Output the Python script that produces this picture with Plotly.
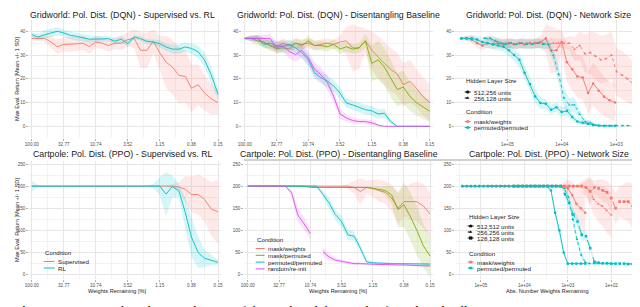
import plotly.graph_objects as go
import math

W, H = 640, 307

# ---------------- data ----------------
weights_pct = [100.00, 80.00, 64.00, 51.20, 40.96, 32.77, 26.21, 20.97, 16.78, 13.42,
               10.74, 8.59, 6.87, 5.50, 4.40, 3.52, 2.81, 2.25, 1.80, 1.44,
               1.15, 0.92, 0.74, 0.59, 0.47, 0.38, 0.30, 0.24, 0.19, 0.15]
pct_tick_vals = [100.00, 32.77, 10.74, 3.52, 1.15, 0.38, 0.15]
pct_tick_text = ["100.00", "32.77", "10.74", "3.52", "1.15", "0.38", "0.15"]

abs_tick_vals = [1e5, 1e4, 1e3, 1e2]
abs_tick_text = ["1e+05", "1e+04", "1e+03", "1e+02"]

# Gridworld: Supervised vs RL
gw_sup_mean = [37, 37, 37, 35.5, 33.5, 34.5, 34.5, 34.7, 35, 33.5, 35.5, 35, 34, 35, 35,
               36.5, 37, 32, 32, 35.8, 31, 27, 25, 21.5, 21, 16, 17.5, 14, 11.5, 10]
gw_sup_sd = [1, 1, 1.5, 2.5, 3, 3, 3, 3, 3, 3, 2.5, 2.5, 2.5, 2.5, 3, 3, 4, 7.5, 7.5, 5,
             7, 11, 11.5, 12, 11, 10, 8.5, 7.5, 6.5, 5]
gw_rl_mean = [38.6, 37.6, 38.6, 39.4, 40, 39.3, 38.3, 37.9, 37.2, 36.7, 36.7, 36.9, 36.9,
              35.8, 36.7, 34.8, 37.6, 36.9, 35.8, 35.5, 34.8, 33.4, 32.5, 32.5, 33.4, 32.8,
              31.4, 27.9, 21.6, 13.5]
gw_rl_sd = [1, 1.5, 1.8, 1.8, 1.8, 1.5, 1.5, 1.5, 1.5, 1.5, 1.2, 1.2, 1.2, 1.2, 1.5, 1.2,
            1, 1, 1, 1.2, 1.5, 1.5, 1.8, 2, 2, 2.2, 2.5, 3, 3.5, 2.5]

# Gridworld: Disentangling baseline
gw_mw_mean = [37, 37, 37, 35, 34, 33.5, 35, 34, 35, 34.5, 35, 34, 34.5, 35, 34.5, 35.5, 36,
              33, 33, 36, 32, 29, 26.5, 24, 22, 17.5, 19, 16, 12.5, 10]
gw_mw_sd = [0.5, 1, 1.5, 2, 2, 2, 2, 2, 2, 2, 2, 2, 2, 2, 2, 2.5, 6, 10, 9, 5, 8, 9, 9, 9,
            9, 9, 9, 8, 8, 8]
gw_mp_mean = [37, 37, 36, 35.5, 34, 32.7, 33, 32.5, 35, 34, 36, 34, 34, 33.5, 34.5, 32.5,
              33.5, 32.5, 33, 36, 26.5, 28, 25, 20, 15.5, 16.5, 12.5, 10, 8, 6.3]
gw_mp_sd = [0.5, 1.5, 2, 2, 2, 2, 2, 2, 2, 2, 2, 2, 2, 2, 2, 2, 2, 2, 2, 3, 7.5, 8, 8, 8, 7,
            7, 6, 5.5, 5, 4.5]
gw_pp_mean = [37, 37, 37, 34.5, 35, 34, 33.5, 34.5, 33, 31, 28, 22.5, 20.5, 19, 17, 14, 9.8,
              9, 8, 7, 6.5, 5.2, 5.5, 2, 0, 0, 0, 0, 0, 0]
gw_pp_sd = [0.5, 1, 1.5, 1.5, 2, 2, 2, 2, 2, 2.5, 2.5, 2.5, 2.5, 2.5, 2.5, 2.5, 2, 2, 2, 2,
            2, 2, 2, 1, 0.3, 0, 0, 0, 0, 0]
gw_rr_mean = [37, 37, 37, 37, 37, 33, 34, 31.5, 30.2, 32, 28.8, 24, 21.7, 18.5, 12.6, 5.2,
              3.5, 2.4, 2, 2, 1.5, 0.5, 0, 0, 0, 0, 0, 0, 0, 0]
gw_rr_sd = [0.5, 1, 1.5, 1.5, 2, 2.5, 2.5, 3, 3, 3, 3, 3, 3, 3, 2.5, 2, 1.5, 1.2, 1, 1, 1,
            0.5, 0, 0, 0, 0, 0, 0, 0, 0]

# Gridworld: Network size (total weights per hidden-layer configuration)
gw_sizes = ["512,256 units", "256,128 units"]
gw_total_weights = [7.0e5, 2.6e5]
gw_ns_mw_mean = [
    [37, 37, 36.5, 35, 34, 35, 34.5, 35, 34.5, 35, 34.5, 35, 34.5, 35, 35, 35.5, 37, 32,
     32, 35.5, 27, 24, 21, 20.5, 14, 18, 15, 12.5, 11, 10],
    [37, 37, 36, 35, 35, 35, 34.5, 35, 35, 34.5, 35, 35, 34.5, 35, 35, 35, 35, 32.5, 34,
     30.5, 31, 29.5, 28, 28.5, 30, 23, 21.5, 20, 18, 13],
]
gw_ns_mw_sd = [
    [1, 1, 1.5, 2, 2, 2, 2, 2, 2, 2, 2, 2, 2, 2, 2, 2.5, 6, 10, 9, 5, 8, 9, 9, 9, 9, 9, 9,
     8, 8, 8],
    [1, 1, 1.5, 2, 2, 2, 2, 2, 2, 2, 2, 2, 2, 2, 2, 2, 3, 5, 6, 8, 9, 10, 10, 10, 10, 10,
     10, 10, 9, 8],
]
gw_ns_pp_mean = [
    [37, 37, 37, 36.5, 35.5, 35, 34.5, 34, 33.5, 32, 30, 28, 22.5, 17.8, 12.6, 9.8, 9.5, 7,
     8, 6, 6.5, 3.9, 2, 1.5, 1, 0.5, 0.3, 0.2, 0.2, 0.2],
    [37, 37, 36, 35, 34.5, 35, 34.5, 35, 34.5, 34.5, 35, 34.5, 34.5, 30, 22, 12, 9, 9, 5,
     2, 1.5, 0.5, 0.3, 0.3, 0.3, 0.3, 0.3, 0.3, 0.3, 0.3],
]
gw_ns_pp_sd = [
    [0.5, 1, 1.5, 1.5, 2, 2, 2, 2, 2, 2.5, 2.5, 3, 3, 3, 3, 2.5, 2, 2, 2, 2, 2, 1.5, 1, 1,
     0.5, 0.3, 0, 0, 0, 0],
    [0.5, 1, 1.5, 1.5, 2, 2, 2, 2, 2, 2, 2, 2, 2, 3, 4, 4, 3, 3, 2, 1, 1, 0.5, 0, 0, 0, 0,
     0, 0, 0, 0],
]

# Cartpole: Supervised vs RL
cp_sup_mean = [200] * 23 + [198, 193, 181, 181, 170, 148, 142]
cp_sup_sd = [1] * 22 + [5, 10, 30, 40, 45, 50, 60, 72]
cp_rl_mean = [200] * 21 + [182, 199, 190, 140, 85, 50, 37, 33, 28]
cp_rl_sd = [12, 2] + [1] * 17 + [5, 20, 50, 25, 15, 35, 45, 35, 20, 12, 5]

# Cartpole: Disentangling baseline
cp_mw_mean = [200] * 17 + [197, 188, 197, 195, 190, 186, 173, 150, 165, 165, 165, 155, 137]
cp_mw_sd = [1] * 16 + [5, 15, 30, 15, 20, 25, 25, 30, 35, 35, 40, 45, 50, 50]
cp_mp_mean = [200] * 10 + [197] * 10 + [195, 193, 190, 180, 147, 158, 130, 100, 65, 42]
cp_mp_sd = [1] * 20 + [3, 5, 10, 20, 40, 50, 55, 55, 50, 45]
cp_pp_mean = [200] * 12 + [182, 162, 136, 120, 90, 87, 60, 29, 27, 26, 26, 25, 25, 25, 25,
                           24, 24, 24]
cp_pp_sd = [1] * 12 + [8, 12, 12, 12, 12, 10, 8, 4, 3, 2, 2, 2, 2, 2, 2, 2, 2, 2]
cp_rr_mean = [200] * 7 + [185, 135, 115, 93, None, 52, 40, 33, 30, 27, 25, 25, 24, 24, 23,
                          23, 22, 22, 22, 21, 21, 20, 20]
cp_rr_sd = [1] * 7 + [8, 15, 15, 12, None, 10, 8, 5, 4, 3, 3, 3, 2, 2, 2, 2, 2, 2, 2, 2,
                      2, 2, 2]

# Cartpole: Network size
cp_sizes = ["512,512 units", "256,256 units", "128,128 units"]
cp_total_weights = [2.65e5, 6.7e4, 1.7e4]
cp_ns_mw_mean = [
    [200] * 25 + [195, 180, 160, 150, 140],
    [200] * 23 + [198, 190, 170, 160, 155, 145, 135],
    cp_mw_mean,
]
cp_ns_mw_sd = [
    [1] * 24 + [10, 20, 30, 35, 40, 45],
    [1] * 22 + [10, 20, 30, 35, 40, 45, 50, 50],
    cp_mw_sd,
]
cp_ns_pp_mean = [
    [200] * 21 + [190, 140, 100, 50, 25, 25, 25, 25, 25],
    [200] * 18 + [195, 175, 125, 80, 45, 28, 25, 25, 25, 25, 25, 25],
    cp_pp_mean,
]
cp_ns_pp_sd = [
    [1] * 21 + [5, 10, 10, 8, 3, 2, 2, 2, 2],
    [1] * 18 + [5, 10, 12, 12, 8, 4, 2, 2, 2, 2, 2, 2],
    cp_pp_sd,
]

titles = [
    "Gridworld: Pol. Dist. (DQN) - Supervised vs. RL",
    "Gridworld: Pol. Dist. (DQN) - Disentangling Baseline",
    "Gridworld: Pol. Dist. (DQN) - Network Size",
    "Cartpole: Pol. Dist. (PPO) - Supervised vs. RL",
    "Cartpole: Pol. Dist. (PPO) - Disentangling Baseline",
    "Cartpole: Pol. Dist. (PPO) - Network Size",
]

# ---------------- style ----------------
RED, GREEN, CYAN, MAG = "#F8766D", "#7CAE00", "#00BFC4", "#DE4CF0"
FONT = "Liberation Sans, Arial, sans-serif"
TICK_FONT = dict(family=FONT, size=4.6, color="#4D4D4D")
GRID = "#E6E6E6"
MINOR_GRID = "#F2F2F2"

boxes = [
    (17, 211, 12, 130), (232, 425, 12, 130), (447, 636, 12, 130),
    (17, 211, 153, 271), (234, 425, 153, 271), (447, 636, 153, 271),
]


def rgba(hexc, a):
    h = hexc.lstrip("#")
    return "rgba(%d,%d,%d,%s)" % (int(h[0:2], 16), int(h[2:4], 16), int(h[4:6], 16), a)


def log_range(d0, d1, v_a, p_a, v_b, p_b):
    la, lb = math.log10(v_a), math.log10(v_b)
    s = (p_b - p_a) / (lb - la)
    return [la + (d0 - p_a) / s, la + (d1 - p_a) / s]


def lin_range(y0, y1, v_a, p_a, v_b, p_b):
    s = (p_b - p_a) / (v_b - v_a)
    return [v_a + (y1 - p_a) / s, v_a + (y0 - p_a) / s]


fig = go.Figure()


def add_series(i, xs, mean, sd, color, dash="solid", symbol=None):
    xa = "x" if i == 1 else "x%d" % i
    ya = "y" if i == 1 else "y%d" % i
    seg = []
    segs = []
    for x, m, s in zip(xs, mean, sd):
        if m is None:
            if seg:
                segs.append(seg)
            seg = []
        else:
            seg.append((x, m, s))
    if seg:
        segs.append(seg)
    for sg in segs:
        bx = [p[0] for p in sg] + [p[0] for p in sg[::-1]]
        by = [p[1] + p[2] for p in sg] + [p[1] - p[2] for p in sg[::-1]]
        fig.add_trace(go.Scatter(x=bx, y=by, xaxis=xa, yaxis=ya, fill="toself",
                                 fillcolor=rgba(color, 0.16), line=dict(width=0),
                                 mode="lines", hoverinfo="skip", showlegend=False))
    mode = "lines+markers" if symbol else "lines"
    fig.add_trace(go.Scatter(x=xs, y=mean, xaxis=xa, yaxis=ya, mode=mode,
                             line=dict(color=color, width=0.9, dash=dash),
                             marker=dict(symbol=symbol or "circle", size=2.6, color=color),
                             connectgaps=False, showlegend=False))


add_series(1, weights_pct, gw_sup_mean, gw_sup_sd, RED)
add_series(1, weights_pct, gw_rl_mean, gw_rl_sd, CYAN)
add_series(2, weights_pct, gw_mw_mean, gw_mw_sd, RED)
add_series(2, weights_pct, gw_mp_mean, gw_mp_sd, GREEN)
add_series(2, weights_pct, gw_pp_mean, gw_pp_sd, CYAN)
add_series(2, weights_pct, gw_rr_mean, gw_rr_sd, MAG)
gw_dash = ["solid", "dot"]
gw_sym = ["circle", "triangle-up"]
for k in range(len(gw_sizes)):
    xs = [gw_total_weights[k] * p / 100 for p in weights_pct]
    add_series(3, xs, gw_ns_mw_mean[k], gw_ns_mw_sd[k], RED, gw_dash[k], gw_sym[k])
    add_series(3, xs, gw_ns_pp_mean[k], gw_ns_pp_sd[k], CYAN, gw_dash[k], gw_sym[k])
add_series(4, weights_pct, cp_sup_mean, cp_sup_sd, RED)
add_series(4, weights_pct, cp_rl_mean, cp_rl_sd, CYAN)
add_series(5, weights_pct, cp_mw_mean, cp_mw_sd, RED)
add_series(5, weights_pct, cp_mp_mean, cp_mp_sd, GREEN)
add_series(5, weights_pct, cp_pp_mean, cp_pp_sd, CYAN)
add_series(5, weights_pct, cp_rr_mean, cp_rr_sd, MAG)
cp_dash = ["solid", "dot", "dash"]
cp_sym = ["circle", "triangle-up", "square"]
for k in range(len(cp_sizes)):
    xs = [cp_total_weights[k] * p / 100 for p in weights_pct]
    add_series(6, xs, cp_ns_mw_mean[k], cp_ns_mw_sd[k], RED, cp_dash[k], cp_sym[k])
    add_series(6, xs, cp_ns_pp_mean[k], cp_ns_pp_sd[k], CYAN, cp_dash[k], cp_sym[k])

# ---------------- axes ----------------
top_y = lin_range(12, 130, 40, 23.3, 0, 118.3)
bot_y = lin_range(153, 271, 250, 156, 0, 266.7)
x_ranges = [
    log_range(17, 211, 100, 20, 0.15, 208),
    log_range(232, 425, 100, 235, 0.15, 421.7),
    log_range(447, 636, 1e5, 500, 1e3, 610),
    log_range(17, 211, 100, 20, 0.15, 208),
    log_range(234, 425, 100, 238, 0.15, 422),
    log_range(447, 636, 1e5, 473.3, 1e2, 605),
]
pct_minor = [math.sqrt(a * b) for a, b in zip(pct_tick_vals[:-1], pct_tick_vals[1:])]
abs_minor = [10 ** (e + 0.5) for e in range(1, 6)]

layout = dict(width=W, height=H, margin=dict(l=0, r=0, t=0, b=0),
              paper_bgcolor="white", plot_bgcolor="rgba(0,0,0,0)", showlegend=False,
              font=dict(family=FONT))
for i, (x0, x1, y0, y1) in enumerate(boxes, start=1):
    xk = "xaxis" if i == 1 else "xaxis%d" % i
    yk = "yaxis" if i == 1 else "yaxis%d" % i
    is_abs = i in (3, 6)
    xaxis = dict(type="log", domain=[x0 / W, x1 / W], range=x_ranges[i - 1],
                 anchor="y" if i == 1 else "y%d" % i,
                 tickvals=abs_tick_vals if is_abs else pct_tick_vals,
                 ticktext=abs_tick_text if is_abs else pct_tick_text,
                 tickfont=TICK_FONT, showgrid=True, gridcolor=GRID, gridwidth=0.6,
                 zeroline=False, showline=False, ticks="outside", ticklen=1.5,
                 tickcolor="#B0B0B0", tickwidth=0.5,
                 minor=dict(tickvals=abs_minor if is_abs else pct_minor, showgrid=True,
                            gridcolor=MINOR_GRID, gridwidth=0.4, ticks=""))
    top = i <= 3
    yaxis = dict(domain=[1 - y1 / H, 1 - y0 / H], range=top_y if top else bot_y,
                 anchor="x" if i == 1 else "x%d" % i,
                 tickvals=[0, 10, 20, 30, 40] if top else [0, 50, 100, 150, 200, 250],
                 tickfont=TICK_FONT, showgrid=True, gridcolor=GRID, gridwidth=0.6,
                 zeroline=False, showline=False, ticks="outside", ticklen=1.5,
                 tickcolor="#B0B0B0", tickwidth=0.5,
                 minor=dict(tickvals=[5, 15, 25, 35] if top else [25, 75, 125, 175, 225],
                            showgrid=True, gridcolor=MINOR_GRID, gridwidth=0.4, ticks=""))
    layout[xk] = xaxis
    layout[yk] = yaxis

layout["xaxis7"] = dict(domain=[0, 1], range=[0, W], visible=False, anchor="y7",
                        fixedrange=True, showgrid=False)
layout["yaxis7"] = dict(domain=[0, 1], range=[H, 0], visible=False, anchor="x7",
                        fixedrange=True, showgrid=False)
# thin rule along the top of the two right-hand bottom panels
layout["shapes"] = [dict(type="line", xref="paper", yref="paper", x0=234 / W, x1=1,
                         y0=1 - 152 / H, y1=1 - 152 / H,
                         line=dict(color="#8C8C8C", width=0.8))]
fig.update_layout(**layout)

annotations = []


def text(x, y, s, size, color="#222222", xanchor="left", angle=0):
    annotations.append(dict(x=x / W, y=1 - y / H, xref="paper", yref="paper", text=s,
                            showarrow=False, xanchor=xanchor, yanchor="middle",
                            textangle=angle,
                            font=dict(family=FONT, size=size, color=color)))


title_y = [7, 7, 7, 146, 146, 146]
title_x = [112, 330, 542, 112, 330, 542]
for i in range(6):
    text(title_x[i], title_y[i], titles[i], 8.8, color="#1A1A1A", xanchor="center")

text(5, 71, "Max Eval. Return [Mean +/- 1 SD]", 5.6, angle=-90, xanchor="center")
text(5, 212, "Max Eval. Return [Mean +/- 1 SD]", 5.6, angle=-90, xanchor="center")
text(106, 283, "Weights Remaining [%]", 5.6, xanchor="center")
text(329, 283, "Weights Remaining [%]", 5.6, xanchor="center")
text(541, 283, "Abs. Number Weights Remaining", 5.6, xanchor="center")


def key(x, y, color, dash="solid", symbol=None, w=9):
    fig.add_trace(go.Scatter(x=[x, x + w], y=[y, y], xaxis="x7", yaxis="y7", mode="lines",
                             line=dict(color=color, width=1, dash=dash),
                             hoverinfo="skip", showlegend=False))
    if symbol:
        fig.add_trace(go.Scatter(x=[x + w / 2], y=[y], xaxis="x7", yaxis="y7",
                                 mode="markers",
                                 marker=dict(symbol=symbol, size=3.2, color=color),
                                 hoverinfo="skip", showlegend=False))


LEG = 6.2
text(31, 244, "Condition", LEG)
key(32, 253.5, RED, w=11)
text(44, 253.5, "Supervised", LEG)
key(32, 260, CYAN, w=11)
text(44, 260, "RL", LEG)

text(245, 231, "Condition", LEG)
cond4 = [("mask/weights", RED), ("mask/permuted", GREEN), ("permuted/permuted", CYAN),
         ("random/re-init", MAG)]
for j, (lab, c) in enumerate(cond4):
    yy = 240.5 + j * 6.8
    key(246, yy, c, w=9)
    text(256.5, yy, lab, LEG)

text(456, 72.5, "Hidden Layer Size", LEG)
for j, lab in enumerate(gw_sizes):
    yy = 84 + j * 6
    key(457, yy, "#111111", gw_dash[j], gw_sym[j], w=6)
    text(464.5, yy, lab, LEG)
text(456, 104, "Condition", LEG)
for j, (lab, c) in enumerate([("mask/weights", RED), ("permuted/permuted", CYAN)]):
    yy = 113.5 + j * 6
    key(457, yy, c, "solid", "circle", w=6)
    text(464.5, yy, lab, LEG)

text(459, 208, "Hidden Layer Size", LEG)
for j, lab in enumerate(cp_sizes):
    yy = 218 + j * 6
    key(460, yy, "#111111", cp_dash[j], cp_sym[j], w=6)
    text(467.5, yy, lab, LEG)
text(459, 245, "Condition", LEG)
for j, (lab, c) in enumerate([("mask/weights", RED), ("permuted/permuted", CYAN)]):
    yy = 254 + j * 6
    key(460, yy, c, "solid", "circle", w=6)
    text(467.5, yy, lab, LEG)

# figure caption, cut by the bottom edge as in the page excerpt
annotations.append(dict(x=0.0, y=1 - 302 / H, xref="paper", yref="paper",
                        text="<b>Figure 3:</b> Disentangling the contributions of the mask and the weights for policy distillation",
                        showarrow=False, xanchor="left", yanchor="middle",
                        font=dict(family="Liberation Serif, serif", size=13, color="#000000")))

fig.update_layout(annotations=annotations)
fig.write_html("out.html")
